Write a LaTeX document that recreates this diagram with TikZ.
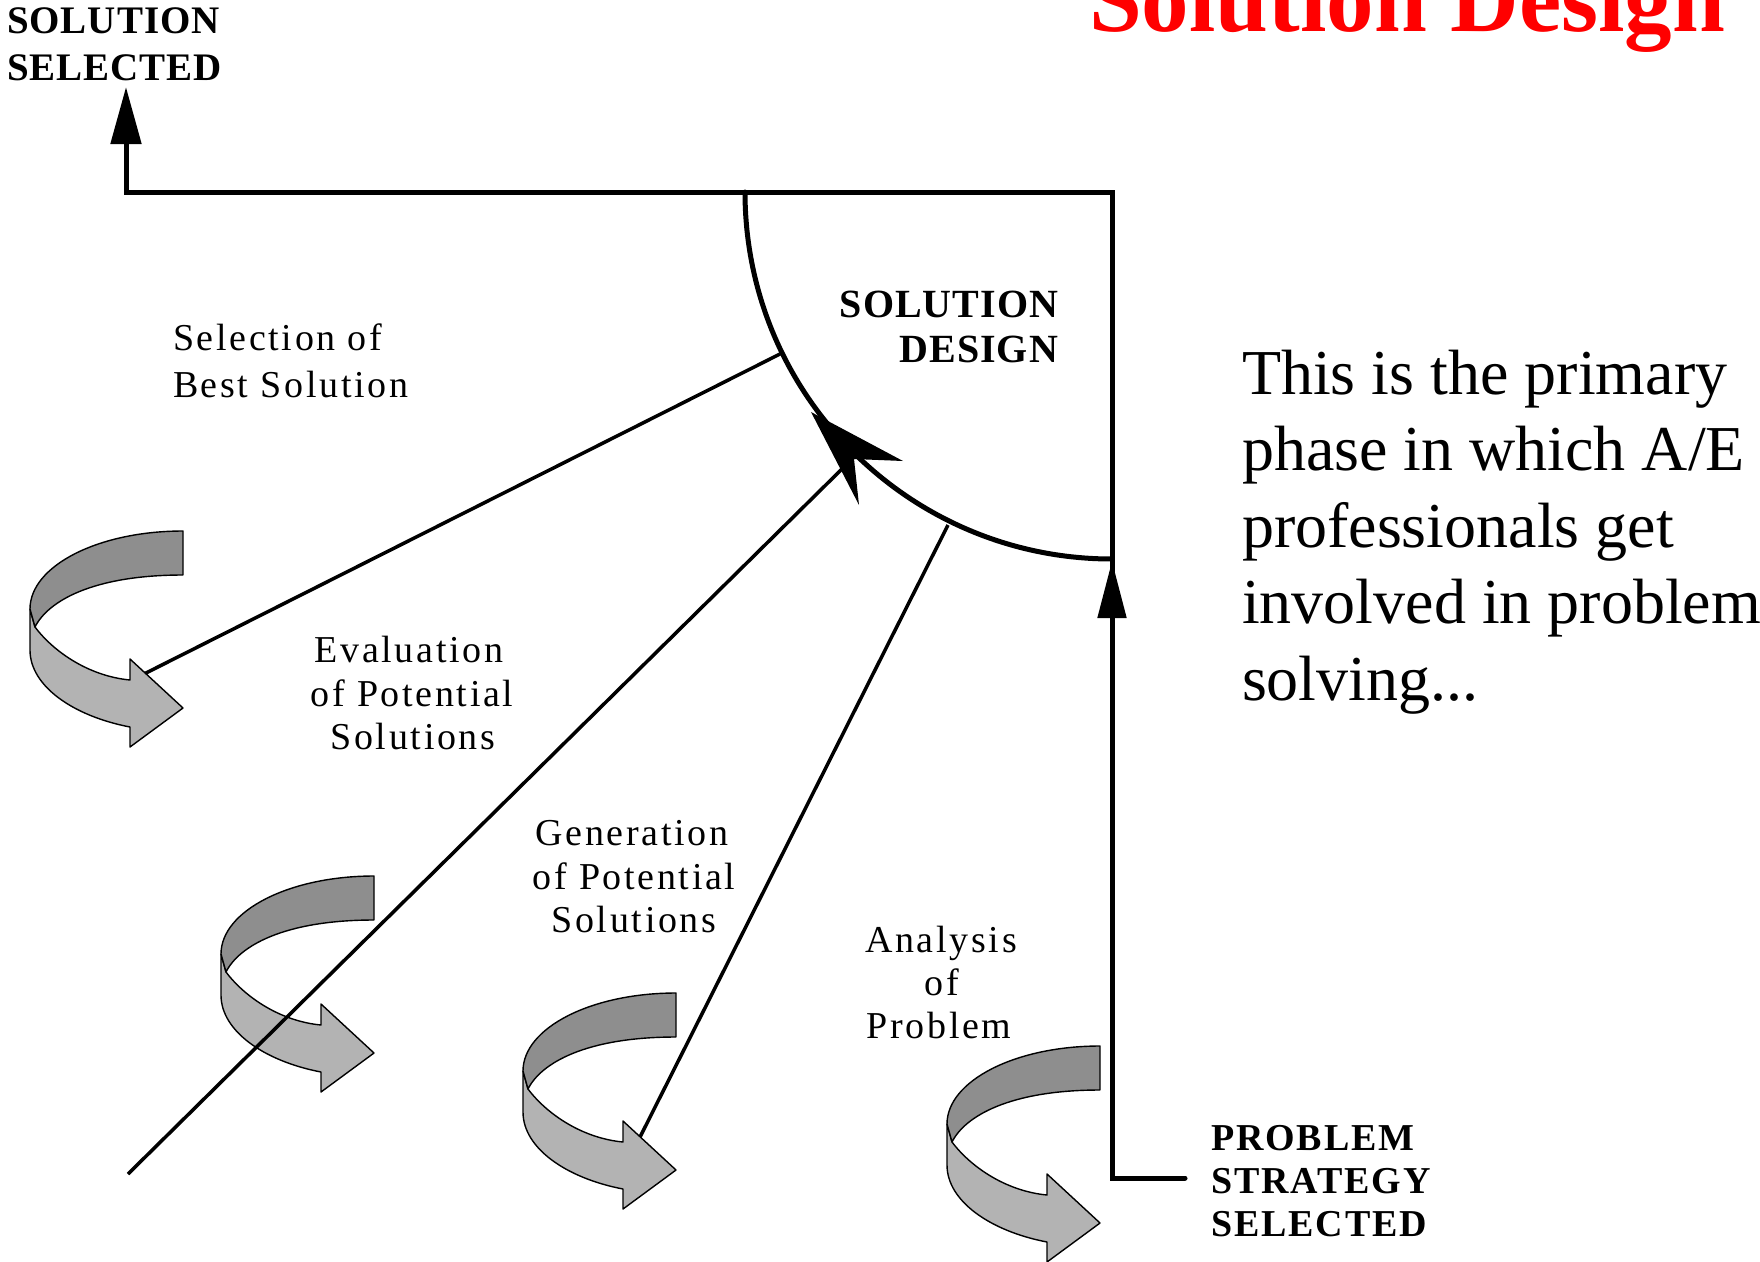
\documentclass[tikz,border=0pt]{standalone}
\usepackage{fontspec}
\setmainfont{Liberation Serif}
\newfontfamily\phasefont[LetterSpace=7]{Liberation Serif}
\newfontfamily\capsfont[LetterSpace=2.5]{Liberation Serif}
\newfontfamily\widecapsfont[LetterSpace=5]{Liberation Serif}
\usetikzlibrary{arrows.meta}

\definecolor{ribbondark}{RGB}{142,142,142}
\definecolor{ribbonlight}{RGB}{179,179,179}
\definecolor{titlered}{RGB}{255,0,0}

\tikzset{
  txt/.style={inner sep=0pt, outer sep=0pt},
  phase/.style={txt, font=\phasefont\fontsize{38}{38}\selectfont},
  milestone/.style={txt, font=\capsfont\bfseries\fontsize{39}{39}\selectfont},
  bigtext/.style={txt, font=\fontsize{64}{64}\selectfont},
  frame/.style={line width=5pt, line cap=round, line join=miter},
  spoke/.style={line width=3.5pt},
  ribbonedge/.style={line width=1.4pt, line join=round, draw=black},
  % curled ribbon arrow, origin at the upper right end of the band
  ribbon/.pic={
    \filldraw[ribbonedge, fill=ribbonlight]
      (-153,78) -- (-153,119)
      .. controls (-153,155) and (-110,185) .. (-53,196)
      -- (-53,216) -- (0,177) -- (-53,128) -- (-53,149)
      .. controls (-95,145) and (-130,120) .. (-148,96) -- cycle;
    \filldraw[ribbonedge, fill=ribbondark]
      (0,0) .. controls (-85,0) and (-153,35) .. (-153,78)
      -- (-148,96) .. controls (-135,70) and (-90,44) .. (0,44) -- cycle;
  }
}

\begin{document}
\begin{tikzpicture}[x=1pt,y=-1pt]
\useasboundingbox (0,0) rectangle (1760,1261);
\clip (0,0) rectangle (1760,1261);

% key points of the process frame
\coordinate (corner) at (1112,192);
\coordinate (arcTop) at (745,192);
\coordinate (arcBot) at (1112,559);
\coordinate (exitTurn) at (126,192);
\coordinate (exitTip) at (126,87);
\coordinate (entryEnd) at (1185,1178);
\coordinate (entryTurn) at (1112,1178);
\coordinate (entryArrowStart) at (1112,640);
\coordinate (entryArrowTip) at (1112,561);

% spokes from the design quadrant out to the phases
\coordinate (spokeA0) at (780,354);
\coordinate (spokeA1) at (138,677);
\coordinate (spokeB0) at (848,463);
\coordinate (spokeB1) at (128,1174);
\coordinate (spokeC0) at (948,525);
\coordinate (spokeC1) at (636,1145);

% frame: entry from the problem strategy, exit to the selected solution
\draw[frame, -{Triangle[length=57pt,width=30pt]}]
  (entryEnd) -- (entryTurn) -- (corner) -- (exitTurn) -- (exitTip);
\draw[line width=5pt, -{Triangle[length=57pt,width=28pt]}] (entryArrowStart) -- (entryArrowTip);

% quarter circle bounding the design quadrant
\draw[frame] (arcTop) .. controls (745,394.7) and (909.3,559) .. (arcBot);

% spokes lying under the ribbons
\draw[spoke] (spokeA0) -- (spokeA1);
\draw[spoke] (spokeC0) -- (spokeC1);

% curled ribbon arrows of the four phases
\pic at (183,531) {ribbon};
\pic at (374,876) {ribbon};
\pic at (676,993) {ribbon};
\pic at (1100,1046) {ribbon};

% spoke crossing over the second ribbon
\draw[spoke] (spokeB0) -- (spokeB1);

% arrowhead on the quarter circle
\fill (811,412) -- (903,461) -- (854,459) -- (859,505) -- cycle;

% title
\node[txt, anchor=base west, text=titlered, font=\bfseries\fontsize{95}{95}\selectfont]
  (title) at (1089,31) {Solution Design};

% milestones
\node[milestone, anchor=base west] (solsel1) at (7,33) {SOLUTION};
\node[milestone, anchor=base west] (solsel2) at (7,80) {SELECTED};

\node[milestone, anchor=base east, font=\capsfont\bfseries\fontsize{40}{40}\selectfont] (soldes1) at (1058,317) {SOLUTION};
\node[milestone, anchor=base east, font=\capsfont\bfseries\fontsize{40}{40}\selectfont] (soldes2) at (1058,362) {DESIGN};

\node[milestone, anchor=base west, font=\widecapsfont\bfseries\fontsize{38}{38}\selectfont] (probstr1) at (1211,1150) {PROBLEM};
\node[milestone, anchor=base west, font=\widecapsfont\bfseries\fontsize{38}{38}\selectfont] (probstr2) at (1211,1193) {STRATEGY};
\node[milestone, anchor=base west, font=\widecapsfont\bfseries\fontsize{38}{38}\selectfont] (probstr3) at (1211,1236) {SELECTED};

% phase labels
\node[phase, anchor=base west] (selA) at (173,350) {Selection of};
\node[phase, anchor=base west] (selB) at (173,397) {Best Solution};

\node[phase, anchor=base] (evalA) at (409,662) {Evaluation};
\node[phase, anchor=base] (evalB) at (412,706) {of Potential};
\node[phase, anchor=base] (evalC) at (413,749) {Solutions};

\node[phase, anchor=base] (genA) at (632,845) {Generation};
\node[phase, anchor=base] (genB) at (634,889) {of Potential};
\node[phase, anchor=base] (genC) at (634,932) {Solutions};

\node[phase, anchor=base] (anaA) at (941,952) {Analysis};
\node[phase, anchor=base] (anaB) at (942,995) {of};
\node[phase, anchor=base] (anaC) at (939,1038) {Problem};

% explanatory text
\node[bigtext, anchor=base west] (noteA) at (1242,394) {This is the primary};
\node[bigtext, anchor=base west] (noteB) at (1242,470.5) {phase in which A/E};
\node[bigtext, anchor=base west] (noteC) at (1242,547) {professionals get};
\node[bigtext, anchor=base west] (noteD) at (1242,623.5) {involved in problem};
\node[bigtext, anchor=base west] (noteE) at (1242,700) {solving...};
\end{tikzpicture}
\end{document}
